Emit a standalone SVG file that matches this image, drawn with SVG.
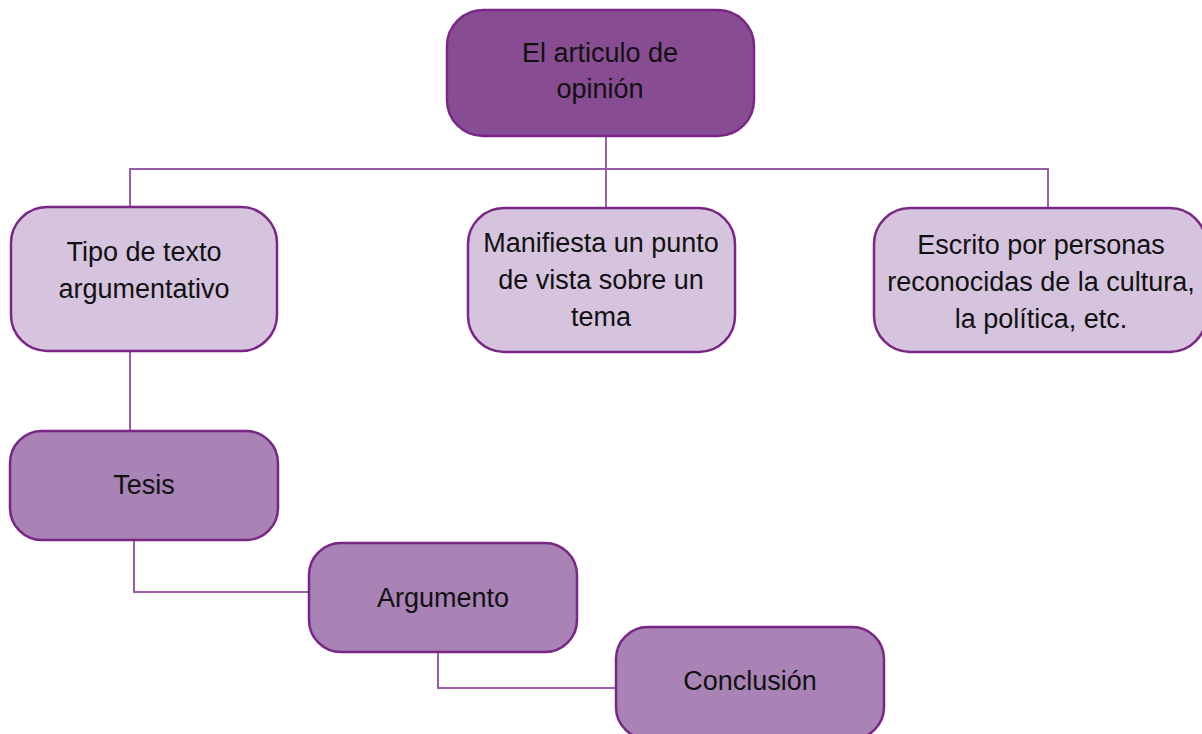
<svg xmlns="http://www.w3.org/2000/svg" width="1202" height="734" viewBox="0 0 1202 734">
<style>
.node rect{stroke:#7a2686;stroke-width:2.5}
.dark rect{fill:#884c92}
.light rect{fill:#d6c4df}
.mid rect{fill:#a983b5}
text{font-family:"Liberation Sans",Arial,sans-serif;font-size:27px;fill:#111;text-anchor:middle}
.conn{fill:none;stroke:#9a5ea8;stroke-width:2}
</style>
<rect width="1202" height="734" fill="#fff"/>
<g id="connectors">
<path class="conn" d="M606,136 V169 M130,207 V169 H1048 V208 M606,169 V208"/>
<path class="conn" d="M130,351 V431"/>
<path class="conn" d="M134,540 V592 H309"/>
<path class="conn" d="M438,652 V688 H616"/>
</g>
<g id="n-articulo" class="node dark">
<rect x="447" y="10" width="307" height="126" rx="36"/>
<text x="600" y="62">El articulo de</text>
<text x="600" y="98">opinión</text>
</g>
<g id="n-tipo" class="node light">
<rect x="11" y="207" width="266" height="144" rx="36"/>
<text x="144" y="261">Tipo de texto</text>
<text x="144" y="298">argumentativo</text>
</g>
<g id="n-manifiesta" class="node light">
<rect x="468" y="208" width="267" height="144" rx="36"/>
<text x="601" y="252">Manifiesta un punto</text>
<text x="601" y="289">de vista sobre un</text>
<text x="601" y="326">tema</text>
</g>
<g id="n-escrito" class="node light">
<rect x="874" y="208" width="332" height="144" rx="36"/>
<text x="1041" y="254">Escrito por personas</text>
<text x="1041" y="291">reconocidas de la cultura,</text>
<text x="1041" y="328">la política, etc.</text>
</g>
<g id="n-tesis" class="node mid">
<rect x="10" y="431" width="268" height="109" rx="32"/>
<text x="144" y="494">Tesis</text>
</g>
<g id="n-argumento" class="node mid">
<rect x="309" y="543" width="268" height="109" rx="32"/>
<text x="443" y="607">Argumento</text>
</g>
<g id="n-conclusion" class="node mid">
<rect x="616" y="627" width="268" height="112" rx="32"/>
<text x="750" y="690">Conclusión</text>
</g>
</svg>
